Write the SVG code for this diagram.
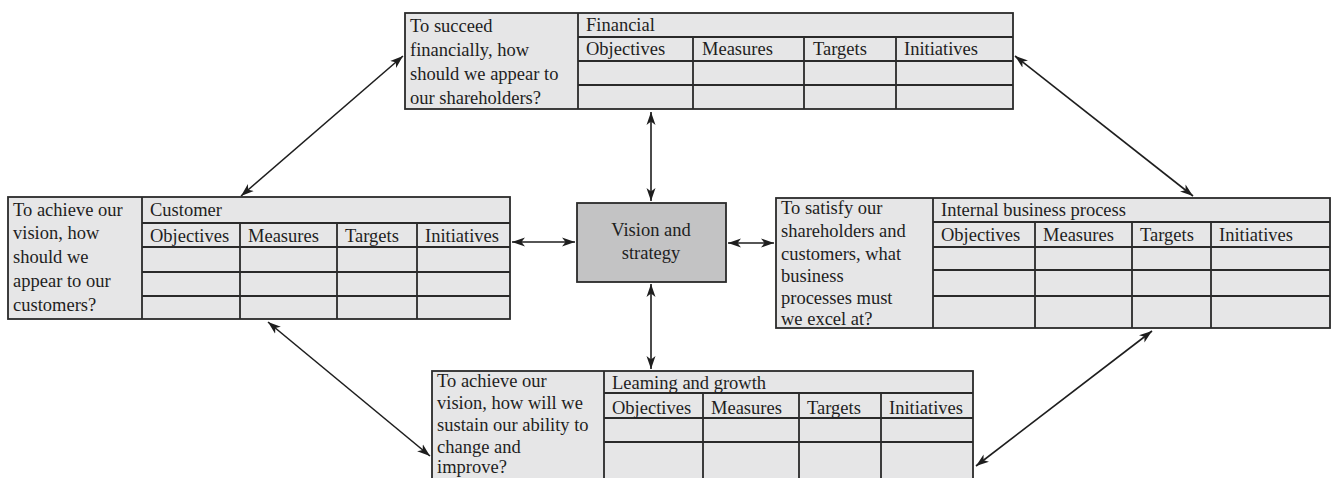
<svg xmlns="http://www.w3.org/2000/svg" width="1331" height="478" viewBox="0 0 1331 478">
<style>
.box{fill:#e6e6e7;stroke:#2a2a2a;stroke-width:1.8}
.core{fill:#c3c3c4;stroke:#2a2a2a;stroke-width:1.8}
.ln{stroke:#2a2a2a;stroke-width:1.8;fill:none}
text{font-family:"Liberation Serif","Times New Roman",serif;font-size:18.5px;fill:#1e1e1e}
.c{text-anchor:middle}
.arr{stroke:#1e1e1e;stroke-width:1.6;fill:none;marker-start:url(#ah);marker-end:url(#ah)}
</style>
<defs>
<marker id="ah" markerUnits="userSpaceOnUse" markerWidth="14" markerHeight="10" refX="13" refY="4.5" orient="auto-start-reverse" viewBox="0 0 14 9">
<path d="M0,0 L13,4.5 L0,9 L3.5,4.5 z" fill="#1e1e1e"/>
</marker>
</defs>
<rect width="1331" height="478" fill="#ffffff"/>

<g id="connectors">
<line class="arr" x1="651" y1="112" x2="651" y2="201"/>
<line class="arr" x1="651" y1="284" x2="651" y2="369"/>
<line class="arr" x1="512" y1="242" x2="575" y2="242"/>
<line class="arr" x1="728" y1="243" x2="774" y2="243"/>
<line class="arr" x1="403" y1="56" x2="241" y2="196"/>
<line class="arr" x1="1015" y1="56" x2="1193" y2="196"/>
<line class="arr" x1="268" y1="322" x2="430" y2="456"/>
<line class="arr" x1="1152" y1="331" x2="976" y2="466"/>
</g>

<g id="financial">
<rect class="box" x="405" y="13" width="608" height="96"/>
<path class="ln" d="M578,13V109 M578,37H1013 M578,61H1013 M578,85H1013 M693,37V109 M804,37V109 M896,37V109"/>
<text x="410" y="32">To succeed</text>
<text x="410" y="56">financially, how</text>
<text x="410" y="80">should we appear to</text>
<text x="410" y="104">our shareholders?</text>
<text x="586" y="31">Financial</text>
<text x="586" y="55">Objectives</text>
<text x="702" y="55">Measures</text>
<text x="813" y="55">Targets</text>
<text x="904" y="55">Initiatives</text>
</g>

<g id="customer">
<rect class="box" x="8" y="197" width="502" height="122"/>
<path class="ln" d="M142,197V319 M142,223H510 M142,247H510 M142,272H510 M142,296H510 M240,223V319 M337,223V319 M417,223V319"/>
<text x="13" y="216">To achieve our</text>
<text x="13" y="239">vision, how</text>
<text x="13" y="263">should we</text>
<text x="13" y="287">appear to our</text>
<text x="13" y="311">customers?</text>
<text x="150" y="216">Customer</text>
<text x="150" y="242">Objectives</text>
<text x="248" y="242">Measures</text>
<text x="345" y="242">Targets</text>
<text x="425" y="242">Initiatives</text>
</g>

<g id="vision">
<rect class="core" x="577" y="203" width="149" height="79"/>
<text class="c" x="651" y="236">Vision and</text>
<text class="c" x="651" y="259">strategy</text>
</g>

<g id="internal">
<rect class="box" x="776" y="198" width="554" height="130"/>
<path class="ln" d="M933,198V328 M933,222H1330 M933,247H1330 M933,270H1330 M933,296H1330 M1035,222V328 M1132,222V328 M1211,222V328"/>
<text x="781" y="214">To satisfy our</text>
<text x="781" y="237">shareholders and</text>
<text x="781" y="260">customers, what</text>
<text x="781" y="282">business</text>
<text x="781" y="304">processes must</text>
<text x="781" y="325">we excel at?</text>
<text x="941" y="216">Internal business process</text>
<text x="941" y="241">Objectives</text>
<text x="1043" y="241">Measures</text>
<text x="1140" y="241">Targets</text>
<text x="1219" y="241">Initiatives</text>
</g>

<g id="learning">
<rect class="box" x="432" y="371" width="541" height="120"/>
<path class="ln" d="M604,371V491 M604,393H973 M604,418H973 M604,442H973 M703,393V491 M799,393V491 M881,393V491"/>
<text x="437" y="387">To achieve our</text>
<text x="437" y="409">vision, how will we</text>
<text x="437" y="431">sustain our ability to</text>
<text x="437" y="453">change and</text>
<text x="437" y="473">improve?</text>
<text x="612" y="389">Leaming and growth</text>
<text x="612" y="414">Objectives</text>
<text x="711" y="414">Measures</text>
<text x="807" y="414">Targets</text>
<text x="889" y="414">Initiatives</text>
</g>
</svg>
